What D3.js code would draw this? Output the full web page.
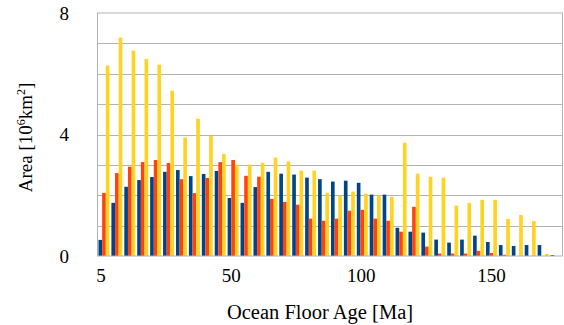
<!DOCTYPE html>
<html>
<head>
<meta charset="utf-8">
<script src="https://cdn.jsdelivr.net/npm/d3@7"></script>
<style>
  html, body { margin: 0; padding: 0; background: #fff; }
  svg { display: block; font-family: "Liberation Serif", "DejaVu Serif", serif; }
</style>
</head>
<body>
<div id="chart"></div>
<script>
// ocean floor age bins, 5 Ma each
const ages = [5, 10, 15, 20, 25, 30, 35, 40, 45, 50, 55, 60, 65, 70, 75, 80, 85, 90,
  95, 100, 105, 110, 115, 120, 125, 130, 135, 140, 145, 150, 155, 160, 165, 170, 175, 180];

const seriesNames = ['blue', 'red', 'yellow'];
const seriesColors = ['#004586', '#ff420e', '#ffd320'];

const blueValues = [0.53, 1.75, 2.28, 2.50, 2.60, 2.77, 2.83, 2.63, 2.70, 2.80, 1.91, 1.75,
  2.27, 2.77, 2.71, 2.68, 2.58, 2.53, 2.45, 2.48, 2.41, 2.02, 2.02, 0.93,
  0.80, 0.77, 0.54, 0.44, 0.54, 0.67, 0.46, 0.36, 0.33, 0.36, 0.36, 0.03];
const redValues = [2.08, 2.73, 2.94, 3.09, 3.16, 3.06, 2.53, 2.07, 2.57, 3.09, 3.16, 2.64,
  2.61, 1.88, 1.78, 1.69, 1.23, 1.16, 1.23, 1.49, 1.52, 1.23, 1.16, 0.80,
  1.62, 0.31, 0.08, 0.08, 0.08, 0.17, 0.10, 0.04, 0, 0, 0, 0];
const yellowValues = [6.27, 7.19, 6.76, 6.49, 6.30, 5.44, 3.90, 4.52, 3.96, 3.36, 3.01, 3.01,
  3.07, 3.24, 3.11, 2.81, 2.81, 2.08, 1.99, 2.12, 2.05, 1.99, 1.95, 3.73,
  2.71, 2.61, 2.58, 1.66, 1.75, 1.85, 1.85, 1.22, 1.35, 1.15, 0.07, 0];

const yTicks = [0, 4, 8];
const xTickValues = [0, 50, 100, 150];
const xTickLabels = ['5', '50', '100', '150'];

const W = 564, H = 325;
const MARGIN = {top: 13, right: 1.5, bottom: 69, left: 97.5};
const FONT = 19;

const svg = d3.select('#chart').append('svg')
  .attr('width', W)
  .attr('height', H);

const plotW = W - MARGIN.left - MARGIN.right;
const plotH = H - MARGIN.top - MARGIN.bottom;

const g = svg.append('g')
  .attr('transform', 'translate(' + MARGIN.left + ',' + MARGIN.top + ')');

const y = d3.scaleLinear().domain([0, 8]).range([plotH, 0]);

const x = d3.scaleBand()
  .domain(ages)
  .range([0, plotW])
  .paddingInner(0.15)
  .paddingOuter(0.075);

const xSub = d3.scaleBand()
  .domain(seriesNames)
  .range([0, x.bandwidth()]);

// age scale used only for the tick labels
const xAge = d3.scaleLinear().domain([0, 180]).range([3, plotW + 6.5]);

// gridlines
g.append('g')
  .selectAll('line')
  .data(d3.range(1, 8))
  .join('line')
  .attr('x1', 0)
  .attr('x2', plotW)
  .attr('y1', d => Math.round(y(d)) + 0.5)
  .attr('y2', d => Math.round(y(d)) + 0.5)
  .attr('stroke', '#b3b3b3')
  .attr('stroke-width', 1);

// bars
const rows = ages.map((a, i) => ({
  age: a,
  values: [blueValues[i], redValues[i], yellowValues[i]]
}));

const groups = g.append('g')
  .selectAll('g')
  .data(rows)
  .join('g')
  .attr('transform', d => 'translate(' + x(d.age) + ',0)');

groups.selectAll('rect')
  .data(d => d.values.map((v, k) => ({name: seriesNames[k], value: v, color: seriesColors[k]})))
  .join('rect')
  .attr('x', d => xSub(d.name))
  .attr('width', xSub.bandwidth())
  .attr('y', d => y(d.value))
  .attr('height', d => plotH - y(d.value))
  .attr('fill', d => d.color);

// plot frame
g.append('rect')
  .attr('x', 0)
  .attr('y', 0)
  .attr('width', plotW)
  .attr('height', plotH)
  .attr('fill', 'none')
  .attr('stroke', '#b3b3b3')
  .attr('stroke-width', 1);

// y axis labels
const yAxis = d3.axisLeft(y)
  .tickValues(yTicks)
  .tickSize(0)
  .tickPadding(28.5)
  .tickFormat(d3.format('d'));

g.append('g')
  .attr('class', 'y-axis')
  .call(yAxis)
  .call(s => s.select('.domain').remove())
  .selectAll('text')
  .attr('font-family', '"Liberation Serif", serif')
  .attr('font-size', FONT)
  .attr('fill', '#000');

// x axis labels
const xAxis = d3.axisBottom(xAge)
  .tickValues(xTickValues)
  .tickSize(0)
  .tickPadding(13)
  .tickFormat((d, i) => xTickLabels[i]);

g.append('g')
  .attr('class', 'x-axis')
  .attr('transform', 'translate(0,' + plotH + ')')
  .call(xAxis)
  .call(s => s.select('.domain').remove())
  .selectAll('text')
  .attr('font-family', '"Liberation Serif", serif')
  .attr('font-size', FONT)
  .attr('fill', '#000');

// axis titles
svg.append('text')
  .attr('x', 320)
  .attr('y', 319)
  .attr('text-anchor', 'middle')
  .attr('font-size', 20.5)
  .attr('fill', '#000')
  .text('Ocean Floor Age [Ma]');

const yTitle = svg.append('text')
  .attr('transform', 'translate(32,137.5) rotate(-90)')
  .attr('text-anchor', 'middle')
  .attr('font-size', FONT)
  .attr('fill', '#000');
yTitle.append('tspan').text('Area [10');
yTitle.append('tspan').attr('font-size', 12).attr('baseline-shift', '7').text('6');
yTitle.append('tspan').text('km');
yTitle.append('tspan').attr('font-size', 12).attr('baseline-shift', '7').text('2');
yTitle.append('tspan').text(']');
</script>
</body>
</html>
